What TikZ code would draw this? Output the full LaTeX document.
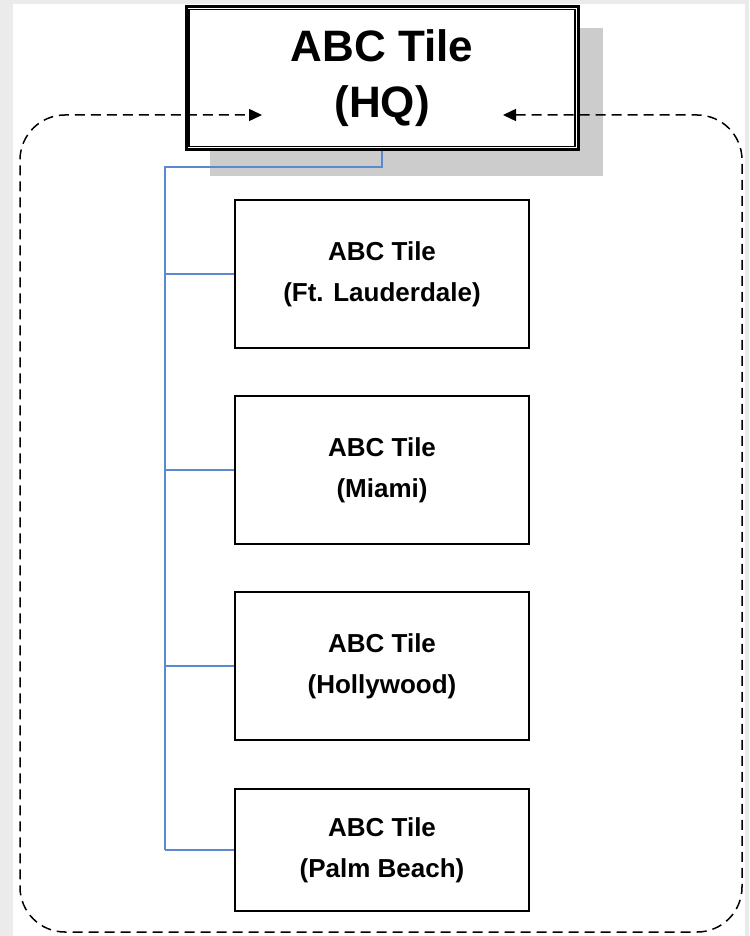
\documentclass[tikz,border=0pt]{standalone}
\usepackage{fontspec}
\setmainfont{Liberation Sans}
\usetikzlibrary{arrows.meta, positioning, calc}
\definecolor{pagegray}{RGB}{235,235,235}
\definecolor{shadowgray}{RGB}{204,204,204}
\definecolor{linkblue}{RGB}{91,137,207}

\begin{document}
\begin{tikzpicture}[x=1pt, y=-1pt,
  office/.style={draw, line width=2pt, fill=white, minimum width=294pt,
    align=center, font=\fontsize{26}{41}\selectfont\bfseries},
  link/.style={draw=linkblue, line width=2pt},
  dashbox/.style={dash pattern=on 10pt off 6pt, line width=1.5pt}]
  \useasboundingbox (0,0) rectangle (749,936);
  \fill[pagegray] (0,0) rectangle (749,936);
  \fill[white] (13,4) rectangle (745,936);

  % head office with shadow
  \fill[shadowgray] (210,28) rectangle (603,176);
  \node[draw, line width=3pt, fill=white,
    minimum width=392pt, minimum height=143pt, align=center,
    font=\fontsize{44}{56}\selectfont\bfseries] (hq) at (382,78) {ABC Tile\\(HQ)};
  \draw[line width=1.2pt] ([shift={(4.5pt,4.5pt)}]hq.south west)
    rectangle ([shift={(-4.5pt,-4.5pt)}]hq.north east);

  % branch offices
  \foreach \name/\y/\h/\city in {ftl/274/148/Ft. Lauderdale, mia/470/148/Miami,
      hol/666/148/Hollywood, pb/850/122/Palm Beach} {
    \node[office, minimum height=\h pt] (\name) at (382,\y) {ABC Tile\\(\city)};
  }

  % connectors
  \coordinate (spine) at (165,167);
  \draw[link] (hq.south) |- (spine) -- (spine |- pb.west);
  \foreach \name in {ftl, mia, hol, pb} {
    \draw[link] (spine |- \name.west) -- (\name.west);
  }

  % group boundary
  \coordinate (rin) at (503,115);
  \coordinate (lin) at (262,115);
  \draw[dashbox, rounded corners=45pt,
    {Triangle[length=13pt, width=12pt]}-{Triangle[length=13pt, width=12pt]}]
    (rin) -- (742,115) -- (742,932) -- (20,932) -- (20,115) -- (lin);
\end{tikzpicture}
\end{document}
